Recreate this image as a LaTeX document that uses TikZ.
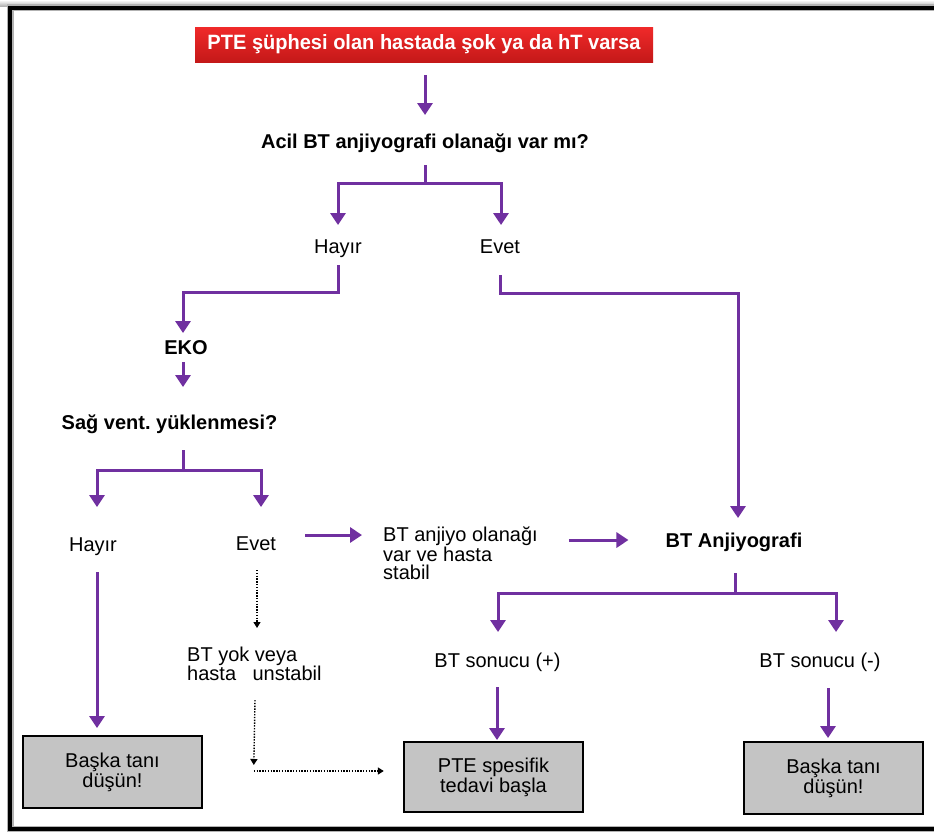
\documentclass[tikz,border=0pt]{standalone}
\usepackage{fontspec}
\usepackage{graphicx}
\setmainfont{Liberation Sans}
\usetikzlibrary{arrows.meta,calc}
\definecolor{purp}{HTML}{7030A0}
\definecolor{boxgray}{HTML}{C4C4C4}
\definecolor{redtop}{HTML}{F02A2A}
\definecolor{redbot}{HTML}{C41818}
\frenchspacing
\begin{document}
\begin{tikzpicture}[x=1pt,y=-1pt,
  arr/.style={draw=purp, line width=3pt, -{Triangle[width=15pt,length=12pt]}},
  pline/.style={draw=purp, line width=3pt},
  dotarr/.style={draw=black, line width=1.4pt, dash pattern=on 1.4pt off 1.4pt,
     -{Triangle[width=7pt,length=6pt]}},
  txt/.style={font=\fontsize{20}{20}\selectfont, inner sep=0pt, text height=14.5pt, text depth=0.5pt},
  btxt/.style={font=\bfseries\fontsize{20}{20}\selectfont, inner sep=0pt, text height=14.5pt, text depth=0.5pt},
  mtxt/.style={inner sep=0pt, align=left, anchor=north west},
  endbox/.style={draw=black, line width=2.4pt, fill=boxgray, align=center, inner sep=0pt,
     font=\fontsize{20}{20}\selectfont, minimum width=179pt}
]
\useasboundingbox (0,0) rectangle (934,831);
\fill[white] (0,0) rectangle (934,831);
% frame
\shade[top color=white, bottom color=gray!60] (0,0) rectangle (934,6);
\draw[gray!60, line width=7pt] (945,7.5) -- (10,7.5) -- (10,829) -- (945,829);
\draw[black, line width=4pt] (945,7.5) -- (10,7.5) -- (10,829) -- (945,829);

% title
\node[minimum width=458pt, minimum height=35pt, inner sep=0pt,
      top color=redtop, bottom color=redbot, draw=none] (title) at (424,44.5)
  {\color{white}\resizebox{433pt}{15pt}{\bfseries PTE şüphesi olan hastada şok ya da hT varsa}};

\node[btxt] (q1) at (425,141) {Acil BT anjiyografi olanağı var mı?};
\node[txt] (h1) at (338,246) {Hayır};
\node[txt] (e1) at (500,246) {Evet};
\node[btxt] (eko) at (186,347) {EKO};
\node[btxt] (q2) at (169.5,422) {Sağ vent. yüklenmesi?};
\node[txt] (h2) at (93,544) {Hayır};
\node[txt] (e2) at (256,543) {Evet};
\node[mtxt, font=\fontsize{20}{18.5}\selectfont] (stab) at (383,526.5)
  {BT anjiyo olanağı\\var ve hasta\\stabil};
\node[btxt] (bta) at (734,540) {BT Anjiyografi};
\node[txt] (pos) at (497.5,660) {BT sonucu (+)};
\node[txt] (neg) at (820,660) {BT sonucu (-)};
\node[mtxt, font=\fontsize{20}{19}\selectfont] (uns) at (187,646.5)
  {BT yok veya\\hasta\hspace{16.5pt}unstabil};

\node[endbox, minimum height=72pt] (b1) at (112.5,772) {Başka tanı\\düşün!};
\node[endbox, minimum height=70pt] (b2) at (493.5,777) {PTE spesifik\\tedavi başla};
\node[endbox, minimum height=72pt] (b3) at (833.5,778) {Başka tanı\\düşün!};

% junctions
\coordinate (j1) at ($(q1)+(0,42)$);
\coordinate (j2) at ($(q2)+(13.5,48)$);
\coordinate (j3) at ($(bta)+(1,53)$);

% connectors
\draw[arr] ($(title)+(1,30.5)$) -- ($(q1)+(0,-26)$);
\draw[pline] ($(q1)+(0,24)$) -- (j1);
\draw[arr] (j1) -| ($(h1)+(0,-21)$);
\draw[arr] (j1) -| ($(e1)+(1,-21)$);

\draw[arr] ($(h1)+(0,19)$) |- ($(eko)+(-3,-55)$) -- ($(eko)+(-3,-14)$);
\draw[arr] ($(e1)+(0,29)$) |- ($(bta)+(4,-247)$) -- ($(bta)+(4,-22)$);

\draw[arr] ($(eko)+(-3,15)$) -- ($(q2)+(13.5,-35)$);
\draw[pline] ($(q2)+(13.5,28)$) -- (j2);
\draw[arr] (j2) -| ($(h2)+(4,-37)$);
\draw[arr] (j2) -| ($(e2)+(5,-36)$);

\coordinate (s1) at ($(e2)+(49,-8)$);
\draw[arr, shorten >=21pt] (s1) -- (s1 -| stab.west);
\coordinate (s2) at ($(bta.west)+(-37,0)$);
\draw[arr, shorten <=31pt] (s2 -| stab.east) -- (s2);

\draw[pline] ($(bta)+(1,33)$) -- (j3);
\draw[arr] (j3) -| ($(pos)+(0.5,-28)$);
\draw[arr] (j3) -| ($(neg)+(16,-28)$);

\draw[arr] ($(h2)+(4,28)$) -- ($(b1)+(-15.5,-44)$);
\draw[arr] ($(pos)+(-0.5,27)$) -- ($(b2)+(3.5,-37)$);
\draw[arr] ($(neg)+(8,28)$) -- ($(b3)+(-5.5,-40)$);

% dotted
\draw[dotarr] ($(e2)+(1,27)$) -- ($(uns.north west)+(70,-18.5)$);
\coordinate (dc) at ($(b2.west)+(-149,-6)$);
\draw[dotarr] ($(uns.north west)+(68,53.5)$) -- ($(dc)+(0,-6)$);
\draw[dotarr] (dc) -- ($(b2.west)+(-19,-6)$);
\end{tikzpicture}
\end{document}
